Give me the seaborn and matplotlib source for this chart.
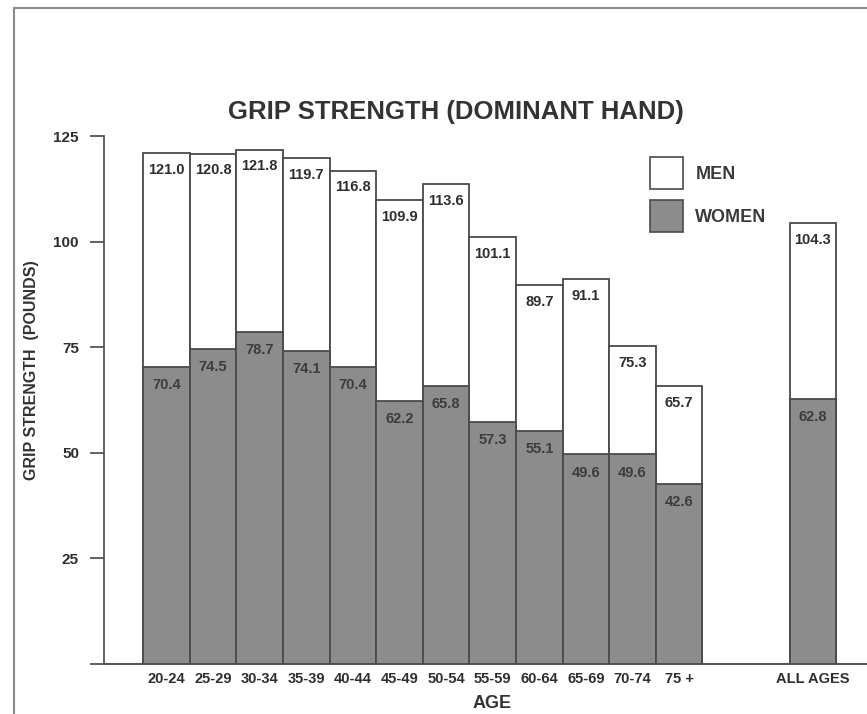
import matplotlib
matplotlib.use("Agg")
import matplotlib.pyplot as plt
import seaborn as sns
import pandas as pd
from matplotlib.patches import Patch, Rectangle

# ---- data ----
age_groups = ["20-24", "25-29", "30-34", "35-39", "40-44", "45-49",
              "50-54", "55-59", "60-64", "65-69", "70-74", "75 +"]
all_ages_label = "ALL AGES"
men = [121.0, 120.8, 121.8, 119.7, 116.8, 109.9, 113.6, 101.1, 89.7, 91.1, 75.3, 65.7]
women = [70.4, 74.5, 78.7, 74.1, 70.4, 62.2, 65.8, 57.3, 55.1, 49.6, 49.6, 42.6]
men_all = 104.3
women_all = 62.8
y_ticks = [0, 25, 50, 75, 100, 125]

# layout (category positions, with a gap before the overall bar)
positions = list(range(len(age_groups))) + [13.87]

labels = age_groups + [all_ages_label]
df = pd.DataFrame({
    "pos": positions,
    "label": labels,
    "men": men + [men_all],
    "women": women + [women_all],
})

sns.set_style("white")
plt.rcParams["font.family"] = ["Liberation Sans", "DejaVu Sans"]
plt.rcParams["font.weight"] = "bold"

W, H = 867, 714
fig = plt.figure(figsize=(W / 100, H / 100), dpi=100)
ax = fig.add_axes([104 / W, 1 - 664 / H, (W - 104) / W, (664 - 136) / H])

edge = "#4a4a4a"
gray = "#8c8c8c"
txt = "#2e2e2e"

sns.barplot(data=df, x="pos", y="men", native_scale=True, width=1.0,
            color="white", edgecolor=edge, linewidth=1.3, saturation=1,
            ax=ax, zorder=2)
sns.barplot(data=df, x="pos", y="women", native_scale=True, width=1.0,
            color=gray, edgecolor=edge, linewidth=1.3, saturation=1,
            ax=ax, zorder=3)

for p, m, w in zip(df["pos"], df["men"], df["women"]):
    ax.annotate(f"{m:.1f}", (p, m), xytext=(0, -7), textcoords="offset points",
                ha="center", va="top", fontsize=10.5, fontweight="bold",
                color=txt, zorder=5)
    ax.annotate(f"{w:.1f}", (p, w), xytext=(0, -8), textcoords="offset points",
                ha="center", va="top", fontsize=10.5, fontweight="bold",
                color="#3c3c3c", zorder=5)

ax.set_ylim(0, 125)
ax.set_xlim(-1.34, 15.03)
ax.set_yticks(y_ticks)
ax.set_yticklabels(["" if t == 0 else str(t) for t in y_ticks])
ax.set_xticks(positions)
ax.set_xticklabels(labels)
ax.tick_params(axis="y", direction="out", length=10, width=1.3, color="#555555",
               pad=8, labelsize=11, labelcolor=txt, left=True)
ax.tick_params(axis="x", length=0, pad=6, labelsize=10.5, labelcolor=txt)
for lab in ax.get_xticklabels() + ax.get_yticklabels():
    lab.set_fontweight("bold")

for s in ["top", "right"]:
    ax.spines[s].set_visible(False)
ax.spines["left"].set_color("#555555")
ax.spines["left"].set_linewidth(1.3)
ax.spines["bottom"].set_color("#555555")
ax.spines["bottom"].set_linewidth(1.5)
ax.set_xlabel("")
ax.set_ylabel("")

# legend
handles = [Patch(facecolor="white", edgecolor=edge, linewidth=1.2, label="MEN"),
           Patch(facecolor=gray, edgecolor=edge, linewidth=1.2, label="WOMEN")]
leg = fig.legend(handles=handles, loc="upper left",
                 bbox_to_anchor=(634 / W, 1 - 141 / H), frameon=False,
                 handlelength=1.8, handleheight=2.35, labelspacing=0.6,
                 handletextpad=0.7, prop={"weight": "bold", "size": 13})
for t in leg.get_texts():
    t.set_color("#3a3a3a")

# titles / axis labels
fig.text(456 / W, 1 - 112 / H, "GRIP STRENGTH (DOMINANT HAND)", ha="center",
         va="center", fontsize=18.5, fontweight="bold", color="#333333")
fig.text(32 / W, 1 - 370 / H, "GRIP STRENGTH  (POUNDS)", rotation=90,
         ha="center", va="center", fontsize=11.5, fontweight="bold", color="#333333")
fig.text(492 / W, 1 - 703 / H, "AGE", ha="center", va="center",
         fontsize=13, fontweight="bold", color="#333333")

# scanned page border
fig.add_artist(Rectangle((14 / W, -0.1), 1.2, 1 - 8 / H + 0.1,
                         transform=fig.transFigure, fill=False,
                         edgecolor="#8a8a8a", linewidth=1.5))

fig.savefig("out.png", dpi=100)
